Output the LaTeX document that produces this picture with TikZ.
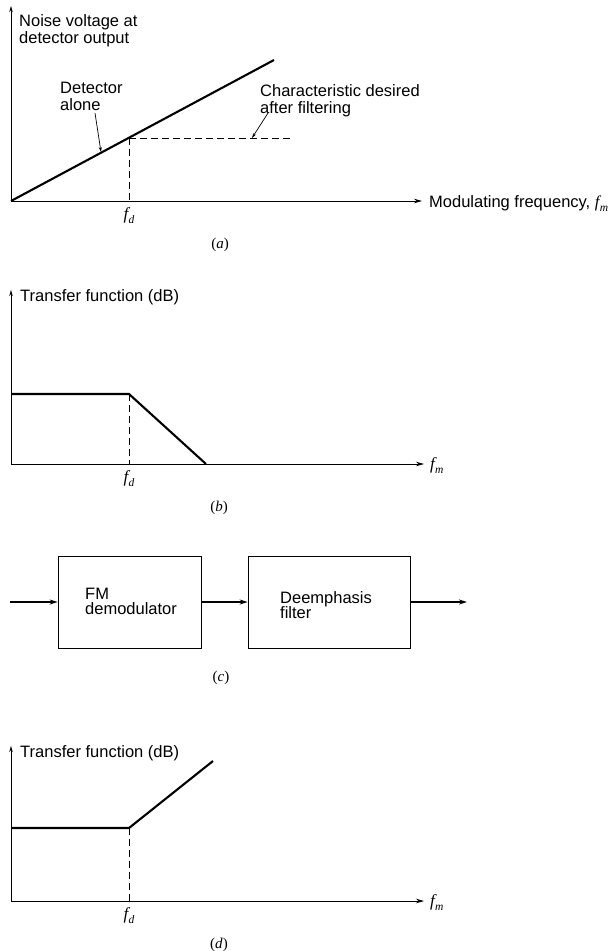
\documentclass[tikz,border=0pt]{standalone}
\usepackage{fontspec}
\setmainfont{Liberation Serif}
\newfontfamily\hv{Liberation Sans}
\usetikzlibrary{arrows.meta}
\newcommand{\fsub}[1]{{\rmfamily\itshape f\kern0.3pt\raisebox{-0.28em}{\fontsize{11.5}{11.5}\selectfont #1}}}
\begin{document}
\begin{tikzpicture}[x=1pt,y=-1pt,
  axisline/.style={line width=0.8pt,-{Stealth[length=8pt,width=4.5pt]}},
  yaxisline/.style={line width=0.8pt,-{Stealth[length=6pt,width=3.5pt]}},
  curve/.style={line width=2.1pt},
  guide/.style={line width=0.7pt,dash pattern=on 7pt off 4pt},
  pointer/.style={line width=0.7pt,-{Stealth[length=5pt,width=3pt]}},
  txt/.style={font=\hv\fontsize{16.5}{17}\selectfont,inner sep=0pt,align=left,anchor=base west},
  mlbl/.style={font=\fontsize{17}{17}\selectfont,inner sep=0pt,anchor=base},
  panellbl/.style={font=\fontsize{15}{15}\selectfont,inner sep=0pt,anchor=base},
  blockbox/.style={draw,line width=0.8pt,minimum height=92pt,inner sep=0pt},
  flow/.style={line width=1.6pt,-{Stealth[length=8pt,width=5pt]}}
]
\useasboundingbox (0,0) rectangle (613,951);

% ---------- (a) ----------
\coordinate (ao) at (11,201);
\coordinate (aytop) at (11,6);
\coordinate (axend) at (422,201);
\coordinate (aknee) at (129,138);
\coordinate (aend) at (274,60);
\coordinate (adash) at (292,138);
\coordinate (afd) at (129,201);
\draw[yaxisline] (ao) -- (aytop);
\draw[axisline] (ao) -- (axend);
\draw[curve] (ao) -- (aend);
\draw[guide] (aknee) -- (adash);
\draw[guide] (aknee) -- (afd);
\node[txt] (noise) at (19,43.5) {Noise voltage at\\detector output};
\node[txt] (modf) at (429,207) {Modulating frequency, \fsub{m}};
\node[txt] (detal) at (60,110) {Detector\\alone};
\node[txt] (charac) at (260,113) {Characteristic desired\\after filtering};
\coordinate (detp) at (95,113);
\coordinate (detq) at (101,152);
\draw[pointer] (detp) -- (detq);
\coordinate (chp) at (268,113);
\coordinate (chq) at (252,138);
\draw[pointer] (chp) -- (chq);
\node[mlbl] (fda) at (129,219) {\fsub{d}};
\node[panellbl] (la) at (220,248) {(\textit{a})};

% ---------- (b) ----------
\coordinate (bo) at (11,464);
\coordinate (bytop) at (11,290);
\coordinate (bxend) at (424,464);
\coordinate (bstart) at (11,394);
\coordinate (bknee) at (129,394);
\coordinate (bend) at (206,464);
\coordinate (bfd) at (129,464);
\draw[yaxisline] (bo) -- (bytop);
\draw[axisline] (bo) -- (bxend);
\draw[curve] (bstart) -- (bknee) -- (bend);
\draw[guide] (bknee) -- (bfd);
\node[txt] (tfb) at (20,301.5) {Transfer function (dB)};
\node[mlbl,anchor=base west] (fmb) at (430,469) {\fsub{m}};
\node[mlbl] (fdb) at (129,482) {\fsub{d}};
\node[panellbl] (lb) at (219,511) {(\textit{b})};

% ---------- (c) ----------
\node[blockbox,minimum width=143pt] (demod) at (129.5,602) {};
\node[blockbox,minimum width=162pt] (deemph) at (329,602) {};
\node[txt] (demodtxt) at (85,614) {FM\\[-2pt]demodulator};
\node[txt] (deemtxt) at (280,618) {Deemphasis\\[-2pt]filter};
\coordinate (cin) at (10,602);
\coordinate (cout) at (467,602);
\draw[flow,line width=1.2pt] (cin) -- (demod.west);
\draw[flow] (demod.east) -- (deemph.west);
\draw[flow] (deemph.east) -- (cout);
\node[panellbl] (lc) at (221,681) {(\textit{c})};

% ---------- (d) ----------
\coordinate (do) at (11,901);
\coordinate (dytop) at (11,746);
\coordinate (dxend) at (424,901);
\coordinate (dstart) at (11,828);
\coordinate (dknee) at (129,828);
\coordinate (dend) at (213,761);
\coordinate (dfd) at (129,901);
\draw[yaxisline] (do) -- (dytop);
\draw[axisline] (do) -- (dxend);
\draw[curve] (dstart) -- (dknee) -- (dend);
\draw[guide] (dknee) -- (dfd);
\node[txt] (tfd) at (20,757.5) {Transfer function (dB)};
\node[mlbl,anchor=base west] (fmd) at (430,906) {\fsub{m}};
\node[mlbl] (fdd) at (129,919) {\fsub{d}};
\node[panellbl] (ld) at (219,948) {(\textit{d})};
\end{tikzpicture}
\end{document}
